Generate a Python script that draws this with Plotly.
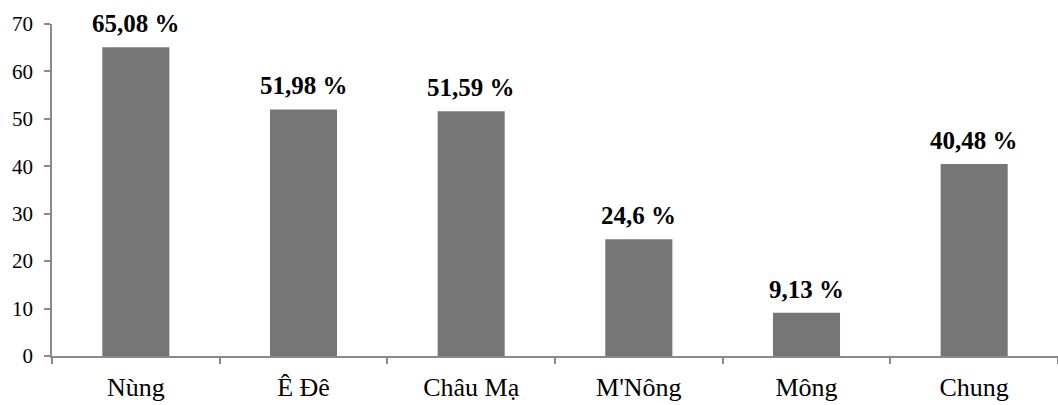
import plotly.graph_objects as go

categories = ["Nùng", "Ê Đê", "Châu Mạ", "M'Nông", "Mông", "Chung"]
values = [65.08, 51.98, 51.59, 24.6, 9.13, 40.48]
value_labels = ["65,08 %", "51,98 %", "51,59 %", "24,6 %", "9,13 %", "40,48 %"]
y_ticks = [0, 10, 20, 30, 40, 50, 60, 70]

SERIF = "Liberation Serif"
AXIS_COLOR = "#8a8a8a"
BAR_COLOR = "#767676"

fig = go.Figure(
    go.Bar(
        x=categories,
        y=values,
        marker=dict(color=BAR_COLOR, line=dict(width=0)),
        width=0.4,
        hoverinfo="skip",
    )
)

# bold value labels above each bar
for cat, val, lab in zip(categories, values, value_labels):
    fig.add_annotation(
        x=cat, y=val, text=f"<b>{lab}</b>", showarrow=False,
        yanchor="bottom", yshift=8,
        font=dict(family=SERIF, size=25, color="#000000"),
    )

fig.update_layout(
    width=1058, height=405,
    margin=dict(l=52, r=0, t=24, b=49),
    paper_bgcolor="white", plot_bgcolor="white",
    showlegend=False,
    bargap=0.6,
)

fig.update_xaxes(
    type="category",
    showline=True, linecolor=AXIS_COLOR, linewidth=1.5,
    ticks="outside", tickson="boundaries", ticklen=6, tickcolor=AXIS_COLOR, tickwidth=1.5,
    showgrid=False, zeroline=False,
    tickfont=dict(family=SERIF, size=26, color="#000000"),
    ticklabelstandoff=7,
)
fig.update_yaxes(
    range=[0, 70], tickvals=y_ticks,
    showline=True, linecolor=AXIS_COLOR, linewidth=1.5,
    ticks="outside", ticklen=6, tickcolor=AXIS_COLOR, tickwidth=1.5,
    showgrid=False, zeroline=False,
    tickfont=dict(family=SERIF, size=21, color="#000000"),
    ticklabelstandoff=7,
)

fig.write_html("out.html")
